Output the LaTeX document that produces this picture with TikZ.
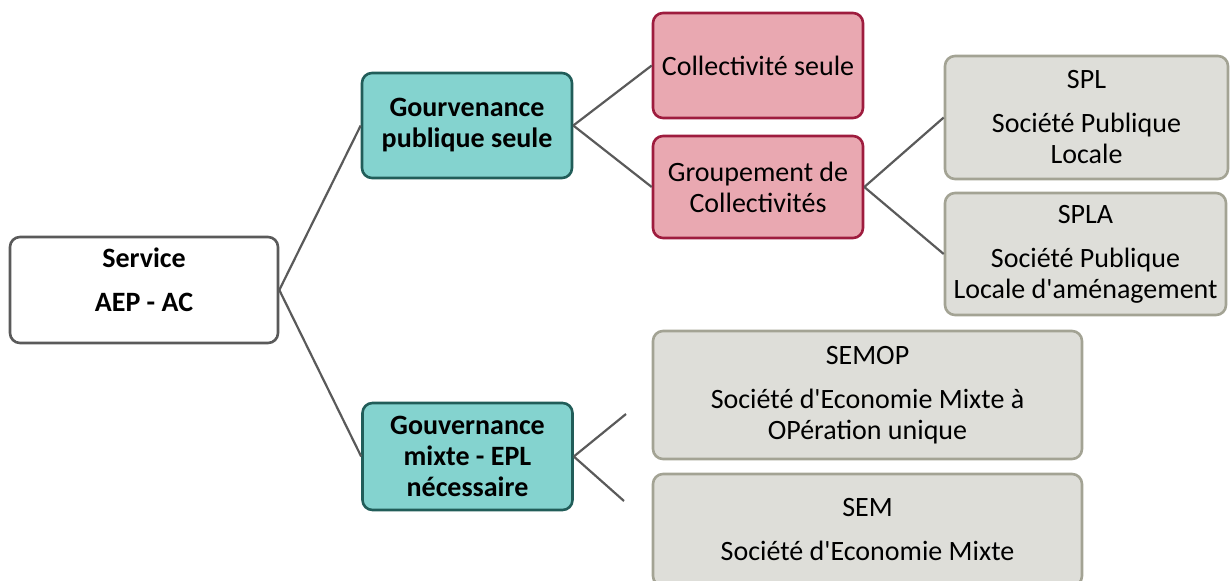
\documentclass[tikz,border=0pt]{standalone}
\usepackage{fontspec}
\setmainfont{Carlito}
\usepackage{tikz}

\definecolor{tealfill}{HTML}{84D3CF}
\definecolor{tealline}{HTML}{215D59}
\definecolor{rosefill}{HTML}{E9A8B1}
\definecolor{roseline}{HTML}{9E1C3E}
\definecolor{greyfill}{HTML}{DEDED9}
\definecolor{greyline}{HTML}{A3A394}
\definecolor{linkgrey}{HTML}{5A5A5A}

\begin{document}
\begin{tikzpicture}[x=0.5pt,y=-0.5pt,
                box/.style={rounded corners=5pt, line width=1.3pt, align=center, inner sep=2pt,
                        font=\fontsize{14}{15.5}\selectfont},
                rootbox/.style={box, draw=linkgrey, fill=white},
                govbox/.style={box, draw=tealline, fill=tealfill, font=\fontsize{14}{15.5}\selectfont\bfseries},
                colbox/.style={box, draw=roseline, fill=rosefill},
                epbox/.style={box, draw=greyline, fill=greyfill},
                link/.style={draw=linkgrey, line width=1.1pt}]
                \useasboundingbox (0,0) rectangle (1231,580);
                \node [rootbox, minimum width=134pt, minimum height=53pt] (service) at (144,290) {};
                \node [align=center, font=\fontsize{14}{15.5}\selectfont\bfseries] (servicetext) at (144,280) {Service\\[6.5pt]AEP - AC};
                \node [govbox, minimum width=105pt, minimum height=52.5pt] (public) at (467,125.5) {Gourvenance\\publique seule};
                \node [govbox, minimum width=105pt, minimum height=53.5pt] (mixed) at (467.5,456.5) {Gouvernance\\mixte - EPL\\nécessaire};
                \node [colbox, minimum width=105pt, minimum height=52.5pt] (single) at (758,65.5) {Collectivité seule};
                \node [colbox, minimum width=105pt, minimum height=51pt] (group) at (758,187) {Groupement de\\Collectivités};
                \node [epbox, minimum width=141.5pt, minimum height=61.5pt] (spl) at (1086.5,117.5) {SPL\\[6.5pt]Société Publique\\Locale};
                \node [epbox, minimum width=140.5pt, minimum height=61pt] (spla) at (1085.5,254) {SPLA\\[6.5pt]Société Publique\\Locale d\textquotesingle aménagement};
                \node [epbox, minimum width=214.5pt, minimum height=64pt] (semop) at (867.5,395) {SEMOP\\[6.5pt]Société d\textquotesingle Economie Mixte à\\OPération unique};
                \node [epbox, minimum width=214.5pt, minimum height=56pt] (sem) at (867.5,530) {SEM\\[6.5pt]Société d\textquotesingle Economie Mixte};
                \coordinate (mixedup) at (626,414);
                \coordinate (mixeddown) at (624,501);
                \draw [link] (service.east) -- (public.west);
                \draw [link] (service.east) -- (mixed.west);
                \draw [link] (public.east) -- (single.west);
                \draw [link] (public.east) -- (group.west);
                \draw [link] (group.east) -- (spl.west);
                \draw [link] (group.east) -- (spla.west);
                \draw [link] (mixed.east) -- (mixedup);
                \draw [link] (mixed.east) -- (mixeddown);
            \end{tikzpicture}
\end{document}
